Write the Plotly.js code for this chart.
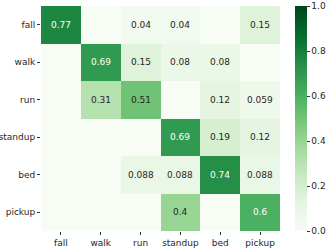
<!DOCTYPE html>
<html>
<head>
<meta charset="utf-8">
<script src="https://cdn.plot.ly/plotly-3.0.1.min.js"></script>
<style>html,body{margin:0;padding:0;background:#fff;}#chart{width:332px;height:248px;}</style>
</head>
<body>
<div id="chart"></div>
<script>
const labels = ["fall", "walk", "run", "standup", "bed", "pickup"];
const rowFall = [0.77, 0, 0.04, 0.04, 0, 0.15];
const rowWalk = [0, 0.69, 0.15, 0.08, 0.08, 0];
const rowRun = [0, 0.31, 0.51, 0, 0.12, 0.059];
const rowStandup = [0, 0, 0, 0.69, 0.19, 0.12];
const rowBed = [0, 0, 0.088, 0.088, 0.74, 0.088];
const rowPickup = [0, 0, 0, 0.4, 0, 0.6];
const z = [rowFall, rowWalk, rowRun, rowStandup, rowBed, rowPickup];
const cbTicks = [0, 0.2, 0.4, 0.6, 0.8, 1.0];

const greens = ["#f7fcf5", "#e5f5e0", "#c7e9c0", "#a1d99b", "#74c476", "#41ab5d", "#238b45", "#006d2c", "#00441b"];
const colorscale = greens.map((c, i) => [i / (greens.length - 1), c]);

const annotations = [];
z.forEach((row, i) => {
  row.forEach((v, j) => {
    if (v === 0) return;
    annotations.push({
      x: labels[j], y: labels[i], xref: 'x', yref: 'y',
      text: String(v), showarrow: false,
      font: {family: 'DejaVu Sans', size: 9, color: v >= 0.55 ? '#ffffff' : '#262626'}
    });
  });
});

const trace = {
  type: 'heatmap', z: z, x: labels, y: labels,
  colorscale: colorscale, zmin: 0, zmax: 1, xgap: 0, ygap: 0,
  hoverinfo: 'none',
  colorbar: {
    x: 1.062, xanchor: 'left', xpad: 0, ypad: 0, y: 0.5, len: 1, lenmode: 'fraction',
    thickness: 12, thicknessmode: 'pixels', outlinewidth: 0,
    tickvals: cbTicks, ticktext: cbTicks.map(v => v.toFixed(1)),
    ticks: 'outside', ticklen: 3, tickwidth: 1, tickcolor: '#333',
    tickfont: {family: 'DejaVu Sans', size: 9, color: '#262626'}
  }
};

const layout = {
  width: 332, height: 248,
  margin: {l: 41, r: 49, t: 6, b: 17, pad: 0},
  paper_bgcolor: '#ffffff', plot_bgcolor: '#ffffff',
  font: {family: 'DejaVu Sans', size: 9, color: '#262626'},
  xaxis: {type: 'category', ticks: 'outside', ticklen: 3, tickcolor: '#333', showgrid: false, zeroline: false, showline: false,
          tickfont: {family: 'DejaVu Sans', size: 9, color: '#262626'}},
  yaxis: {type: 'category', autorange: 'reversed', ticks: 'outside', ticklen: 3, tickcolor: '#333', showgrid: false, zeroline: false, showline: false,
          tickfont: {family: 'DejaVu Sans', size: 9, color: '#262626'}},
  annotations: annotations,
  showlegend: false
};

Plotly.newPlot('chart', [trace], layout, {displayModeBar: false, staticPlot: true});
</script>
</body>
</html>
